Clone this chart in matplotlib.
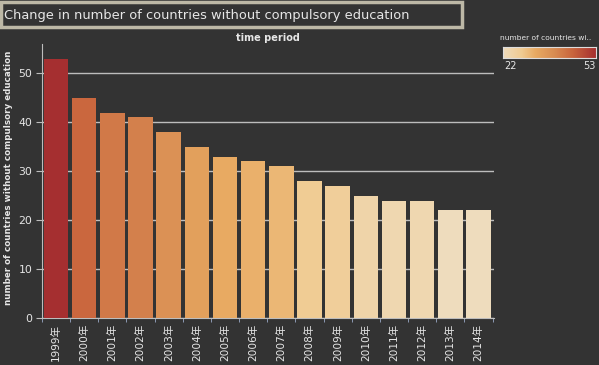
import matplotlib
matplotlib.use("Agg")
import matplotlib.pyplot as plt
import numpy as np
from matplotlib.colors import LinearSegmentedColormap, Normalize
from matplotlib.patches import Rectangle

plt.rcParams['font.family'] = ['DejaVu Sans', 'Noto Sans CJK SC']

# Data
years = ['1999年', '2000年', '2001年', '2002年', '2003年', '2004年', '2005年', '2006年',
         '2007年', '2008年', '2009年', '2010年', '2011年', '2012年', '2013年', '2014年']
counts = [53, 45, 42, 41, 38, 35, 33, 32, 31, 28, 27, 25, 24, 24, 22, 22]

bg = '#333333'
fg = '#e6e6e6'

cmap = LinearSegmentedColormap.from_list(
    'orred', [(0.0, '#eedcbd'), (0.2, '#f0cb92'), (0.35, '#e8aa62'),
              (0.55, '#d88c52'), (0.75, '#c9653d'), (1.0, '#a52f30')])
norm = Normalize(vmin=min(counts), vmax=max(counts))

fig = plt.figure(figsize=(5.99, 3.65), dpi=100, facecolor=bg)

# title box
fig.patches.append(Rectangle((1 / 599, 338 / 365), 461 / 599, 25 / 365,
                             transform=fig.transFigure, facecolor=bg,
                             edgecolor='#bdb8a6', linewidth=2.5))
fig.text(4 / 599, 350 / 365, 'Change in number of countries without compulsory education',
         color=fg, fontsize=9.4, va='center', ha='left')

ax = fig.add_axes([42 / 599, 47 / 365, 452 / 599, 274 / 365])
ax.set_facecolor(bg)

x = np.arange(len(years))
ax.bar(x, counts, width=0.87, color=[cmap(norm(v)) for v in counts], zorder=3)

ax.set_xlim(-0.45, len(years) - 0.45)
ax.set_ylim(0, 56)
ax.set_yticks([0, 10, 20, 30, 40, 50])
ax.yaxis.grid(True, color='#bdbdbd', linewidth=1, zorder=0)
ax.tick_params(axis='y', colors='#bdbdbd', labelcolor=fg, labelsize=7.8, length=4, pad=3)
ax.set_xticks(x)
ax.set_xticklabels(years, rotation=90, color=fg, fontsize=7.6)
ax.tick_params(axis='x', length=0, pad=4)
ax.set_xticks(np.arange(len(years) + 1) - 0.5, minor=True)
ax.tick_params(axis='x', which='minor', length=3, colors='#9aaac8')

for s in ['top', 'right']:
    ax.spines[s].set_visible(False)
ax.spines['left'].set_color('#bdbdbd')
ax.spines['bottom'].set_color('#bdbdbd')

ax.set_ylabel('number of countries without compulsory education', color=fg,
              fontsize=6.3, fontweight='bold')
ax.yaxis.set_label_coords(-0.064, 0.51)
fig.text(268 / 599, 327 / 365, 'time period', color=fg, fontsize=7,
         fontweight='bold', ha='center', va='center')

# colour legend
cax = fig.add_axes([503 / 599, 307 / 365, 93 / 599, 11 / 365])
grad = np.linspace(0, 1, 256).reshape(1, -1)
cax.imshow(grad, aspect='auto', cmap=cmap, extent=[0, 1, 0, 1])
cax.set_xticks([])
cax.set_yticks([])
for s in cax.spines.values():
    s.set_color('#dddddd')
    s.set_linewidth(0.8)
fig.text(500 / 599, 327 / 365, 'number of countries wi..', color=fg, fontsize=5.4,
         ha='left', va='center')
fig.text(504 / 599, 299 / 365, str(min(counts)), color=fg, fontsize=7, ha='left', va='center')
fig.text(596 / 599, 299 / 365, str(max(counts)), color=fg, fontsize=7, ha='right', va='center')

fig.savefig('out.png', dpi=100, facecolor=bg)
